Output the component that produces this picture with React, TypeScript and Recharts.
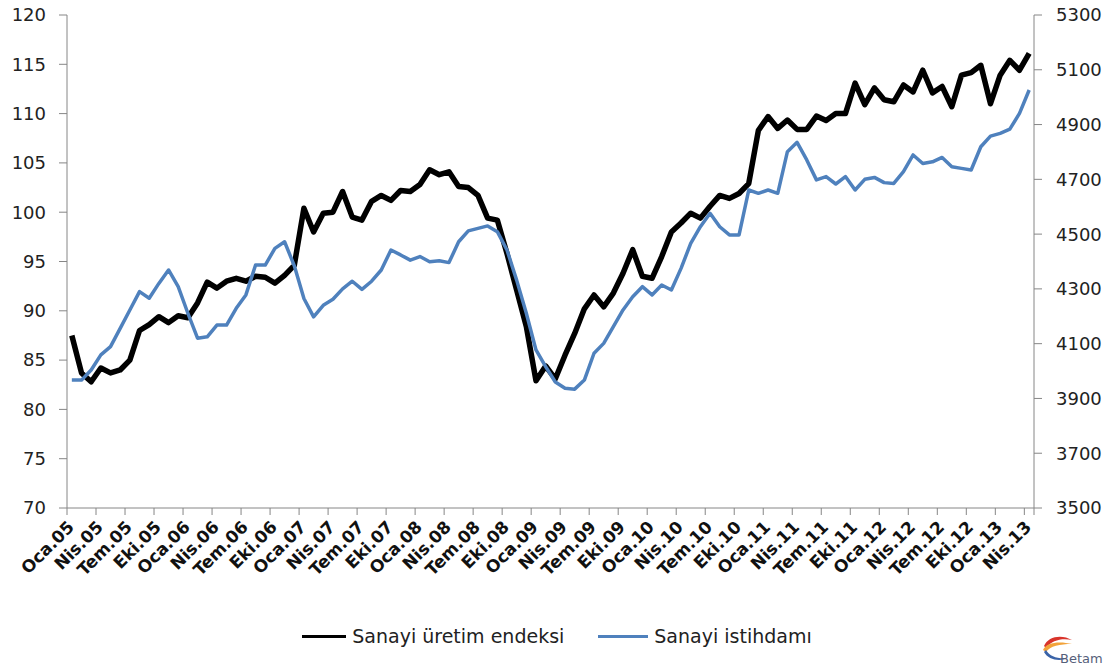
import React from "react";
import { LineChart, Line, XAxis, YAxis, Legend } from "recharts";

// Monthly series, Oca.05 .. Nis.13 (100 months)
const sanayiUretim = [
  87.5, 83.7, 82.8, 84.2, 83.7, 84.0, 85.0, 88.0, 88.6, 89.4, 88.8, 89.5,
  89.3, 90.8, 92.9, 92.3, 93.0, 93.3, 93.0, 93.5, 93.4, 92.8, 93.6, 94.6,
  100.4, 98.0, 99.9, 100.0, 102.1, 99.5, 99.2, 101.1, 101.7, 101.2, 102.2, 102.1,
  102.8, 104.3, 103.8, 104.1, 102.6, 102.5, 101.7, 99.4, 99.2, 95.8, 92.1, 88.4,
  82.9, 84.4, 83.1, 85.5, 87.7, 90.2, 91.6, 90.4, 91.8, 93.8, 96.2, 93.5,
  93.3, 95.5, 98.0, 98.9, 99.9, 99.4, 100.6, 101.7, 101.4, 101.9, 102.9, 108.3,
  109.7, 108.5, 109.35, 108.4, 108.4, 109.75, 109.3, 110.0, 110.0, 113.1, 110.9, 112.6,
  111.4, 111.2, 112.9, 112.2, 114.4, 112.1, 112.75, 110.7, 113.9, 114.15, 114.9, 111.0,
  113.9, 115.4, 114.4, 116.1,
];

const sanayiIstihdam = [
  3967, 3967, 4004, 4059, 4089, 4156, 4223, 4290, 4266, 4320, 4369, 4308,
  4211, 4120, 4125, 4168, 4168, 4229, 4278, 4387, 4387, 4448, 4472, 4385,
  4265, 4198, 4240, 4262, 4300, 4328, 4298, 4328, 4369, 4442, 4424, 4405,
  4418, 4399, 4403, 4396, 4472, 4512, 4521, 4530, 4509, 4442, 4332, 4211,
  4077, 4016, 3960, 3937, 3934, 3967, 4065, 4101, 4162, 4223, 4271, 4308,
  4278, 4314, 4296, 4375, 4466, 4527, 4576, 4527, 4497, 4497, 4661, 4649,
  4661, 4649, 4801, 4835, 4771, 4698, 4710, 4683, 4710, 4661, 4700, 4707,
  4688, 4685, 4728, 4789, 4758, 4764, 4780, 4746, 4740, 4734, 4819, 4858,
  4868, 4883, 4941, 5026,
];

// one label every 3 months
const tickLabels = [
  "Oca.05", "Nis.05", "Tem.05", "Eki.05",
  "Oca.06", "Nis.06", "Tem.06", "Eki.06",
  "Oca.07", "Nis.07", "Tem.07", "Eki.07",
  "Oca.08", "Nis.08", "Tem.08", "Eki.08",
  "Oca.09", "Nis.09", "Tem.09", "Eki.09",
  "Oca.10", "Nis.10", "Tem.10", "Eki.10",
  "Oca.11", "Nis.11", "Tem.11", "Eki.11",
  "Oca.12", "Nis.12", "Tem.12", "Eki.12",
  "Oca.13", "Nis.13",
];

const leftTicks = [70, 75, 80, 85, 90, 95, 100, 105, 110, 115, 120];
const rightTicks = [3500, 3700, 3900, 4100, 4300, 4500, 4700, 4900, 5100, 5300];

const data = sanayiUretim.map((v, i) => ({
  idx: i,
  uretim: v,
  istihdam: sanayiIstihdam[i],
}));

// tick marks sit between categories, like Excel
const xTicks = [...tickLabels.map((_, k) => k * 3 - 0.5), data.length - 0.5];

const AXIS = "#868686";
const FONT = "'DejaVu Sans', Verdana, sans-serif";
const HALF_BAND = 967 / data.length / 2;

function MonthTick(props: any) {
  const { x, y, payload } = props;
  const k = (payload.value + 0.5) / 3;
  const label = tickLabels[k];
  if (!label) return null;
  const tx = x + HALF_BAND - 1;
  const ty = y + 7;
  return (
    <text
      x={tx}
      y={ty}
      transform={`rotate(-45, ${tx}, ${ty})`}
      textAnchor="end"
      dy="0.35em"
      fontFamily={FONT}
      fontWeight="bold"
      fontSize={17}
      fill="#111"
    >
      {label}
    </text>
  );
}

function ChartLegend() {
  const items = [
    { name: "Sanayi üretim endeksi", color: "#000", w: 3, len: 44 },
    { name: "Sanayi istihdamı", color: "#4F81BD", w: 3, len: 50 },
  ];
  return (
    <div
      style={{
        display: "flex",
        justifyContent: "center",
        alignItems: "center",
        height: 30,
        gap: 34,
        fontFamily: FONT,
        fontSize: 19,
        color: "#222",
      }}
    >
      {items.map((it) => (
        <div key={it.name} style={{ display: "flex", alignItems: "center" }}>
          <div style={{ width: it.len, height: it.w, background: it.color, marginRight: 6 }} />
          <span>{it.name}</span>
        </div>
      ))}
    </div>
  );
}

function BetamLogo() {
  return (
    <svg
      width={70}
      height={34}
      style={{ position: "absolute", left: 1038, top: 632 }}
    >
      <path d="M6 14 C10 4, 24 2, 34 8 C24 6, 14 8, 8 16 Z" fill="#d9342b" />
      <path d="M5 18 C8 10, 22 9, 34 12 C22 12, 12 14, 8 20 Z" fill="#f2a33a" />
      <path d="M6 20 C10 28, 22 30, 30 26 C20 27, 12 25, 8 18 Z" fill="#3a63a8" />
      <text x={22} y={31} fontFamily={FONT} fontSize={13} fill="#55607a">
        Betam
      </text>
    </svg>
  );
}

export default function App() {
  return (
    <div
      style={{
        position: "absolute",
        left: 0,
        top: 0,
        width: 1114,
        height: 666,
        background: "#fff",
      }}
    >
      <LineChart
        width={1114}
        height={666}
        data={data}
        margin={{ top: 15, right: 0, bottom: 15, left: 0 }}
      >
        <XAxis
          type="number"
          dataKey="idx"
          domain={[-0.5, data.length - 0.5]}
          ticks={xTicks}
          interval={0}
          height={113}
          stroke={AXIS}
          tickSize={7}
          tick={<MonthTick />}
        />
        <YAxis
          yAxisId="left"
          orientation="left"
          domain={[70, 120]}
          ticks={leftTicks}
          width={67}
          stroke={AXIS}
          tickSize={8}
          tickMargin={13}
          tick={{ fill: "#222", fontSize: 18, fontFamily: FONT }}
        />
        <YAxis
          yAxisId="right"
          orientation="right"
          domain={[3500, 5300]}
          ticks={rightTicks}
          width={80}
          stroke={AXIS}
          tickSize={8}
          tickMargin={14}
          tick={{ fill: "#222", fontSize: 18, fontFamily: FONT }}
        />
        <Legend verticalAlign="bottom" height={30} content={() => <ChartLegend />} />
        <Line
          yAxisId="left"
          type="linear"
          dataKey="uretim"
          name="Sanayi üretim endeksi"
          stroke="#000"
          strokeWidth={5.5}
          strokeLinejoin="round"
          dot={false}
          isAnimationActive={false}
        />
        <Line
          yAxisId="right"
          type="linear"
          dataKey="istihdam"
          name="Sanayi istihdamı"
          stroke="#4F81BD"
          strokeWidth={3.5}
          strokeLinejoin="round"
          dot={false}
          isAnimationActive={false}
        />
      </LineChart>
      <BetamLogo />
    </div>
  );
}
